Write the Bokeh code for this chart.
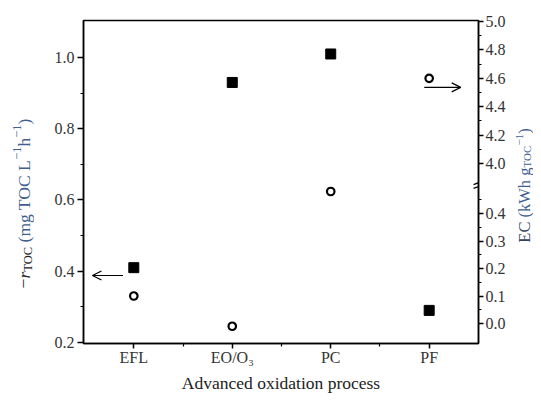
import math
from bokeh.plotting import figure
from bokeh.layouts import row
from bokeh.models import (Range1d, LinearAxis, FixedTicker, Arrow, OpenHead, ColumnDataSource,
                          PrintfTickFormatter)
from bokeh.core.properties import value
from bokeh.embed import file_html
from bokeh.resources import INLINE

# ---------------- data ----------------
processes = ["EFL", "EO/O\u2083", "PC", "PF"]
rate_toc = [0.41, 0.93, 1.01, 0.29]          # -r_TOC (mg TOC L-1 h-1), left axis
energy = [0.10, -0.01, 0.48, 4.60]           # EC (kWh g_TOC-1), right (broken) axis
left_ticks = [0.2, 0.4, 0.6, 0.8, 1.0]
ec_low_ticks = [0.0, 0.1, 0.2, 0.3, 0.4]
ec_high_ticks = [4.0, 4.2, 4.4, 4.6, 4.8, 5.0]

# broken-axis scale for EC: lower segment 0-0.45, upper segment 4.0-5.0 (compressed)
U4, R, BREAK = 0.582, 0.516, 0.505
def ec_scale(v):
    return v if v < 2 else U4 + (v - 4.0) * R

xs = list(range(1, len(processes) + 1))

DARK = "#222222"
BLUE = "#3f5f8f"
TICKC = "#333333"
FONT = "Liberation Serif"
H = 392
TOTAL_W = 533
LW = 34                  # width of left title strip
FRAME_L, FRAME_W = 83, 395
RB = 30                  # right border of main plot
RW = TOTAL_W - (FRAME_L + FRAME_W + RB)   # width of right title strip

p = figure(frame_width=FRAME_W, frame_height=323, output_backend="svg", toolbar_location=None,
           x_range=Range1d(0.489, 4.501), y_range=Range1d(0.197, 1.104),
           min_border_left=FRAME_L - LW, min_border_right=RB, min_border_top=20,
           min_border_bottom=49)
p.xgrid.visible = False
p.ygrid.visible = False
p.outline_line_color = "black"
p.outline_line_width = 1.5
p.background_fill_color = "white"
p.border_fill_color = "white"

p.extra_y_ranges = {"ec": Range1d(-0.0727, 1.1018)}

def style_axis(ax):
    ax.axis_line_width = 1.5
    ax.axis_line_color = "black"
    ax.major_tick_line_width = 1.5
    ax.minor_tick_line_width = 1.2
    ax.major_tick_in = 0
    ax.major_tick_out = 6
    ax.minor_tick_in = 0
    ax.minor_tick_out = 3
    ax.major_label_text_font = FONT
    ax.major_label_text_font_size = "16px"
    ax.major_label_text_color = TICKC
    ax.major_label_standoff = 3

# left axis
yl = p.yaxis[0]
yl.ticker = FixedTicker(ticks=left_ticks,
                        minor_ticks=[(a + b) / 2 for a, b in zip(left_ticks[:-1], left_ticks[1:])])
yl.formatter = PrintfTickFormatter(format="%.1f")
style_axis(yl)

# bottom axis
xb = p.xaxis[0]
xb.ticker = FixedTicker(ticks=xs, minor_ticks=[x + 0.5 for x in xs[:-1]])
xb.major_label_overrides = {x: name for x, name in zip(xs, processes)}
style_axis(xb)
xb.major_tick_out = 5
xb.major_label_standoff = 0
xb.axis_label = "Advanced oxidation process"
xb.axis_label_text_font = FONT
xb.axis_label_text_font_size = "17.5px"
xb.axis_label_text_font_style = "normal"
xb.axis_label_text_color = DARK
xb.axis_label_standoff = 4

# right broken axis
ec_ticks_all = ec_low_ticks + ec_high_ticks
ec_minor = [v + 0.05 for v in ec_low_ticks] + [v + 0.1 for v in ec_high_ticks[:-1]]
yr = LinearAxis(y_range_name="ec",
                ticker=FixedTicker(ticks=[ec_scale(v) for v in ec_ticks_all],
                                   minor_ticks=[ec_scale(v) for v in ec_minor]),
                formatter=PrintfTickFormatter(format="%.1f"))
yr.major_label_overrides = {ec_scale(v): f"{v:.1f}" for v in ec_ticks_all}
style_axis(yr)
yr.major_tick_out = 5
yr.major_label_standoff = 2
p.add_layout(yr, "right")

# data marks
p.scatter(xs, rate_toc, marker="square", size=10, fill_color="black", line_color="black")
p.scatter(xs, [ec_scale(v) for v in energy], y_range_name="ec", marker="circle", size=7.5,
          fill_color="white", line_color="black", line_width=2.2)

# arrows indicating which axis each series belongs to
p.add_layout(Arrow(end=OpenHead(size=9, line_width=1.2, line_color="black"),
                   x_start=xs[0] - 0.11, y_start=rate_toc[0] - 0.022,
                   x_end=xs[0] - 0.42, y_end=rate_toc[0] - 0.022,
                   line_width=1.2, line_color="black"))
p.add_layout(Arrow(end=OpenHead(size=9, line_width=1.2, line_color="black"),
                   x_start=xs[3] - 0.05, y_start=ec_scale(energy[3]) - 0.033,
                   x_end=xs[3] + 0.32, y_end=ec_scale(energy[3]) - 0.033,
                   y_range_name="ec", line_width=1.2, line_color="black"))

# break mark on right axis
for dy in (-0.007, 0.007):
    p.add_layout(Arrow(end=None, x_start=4.501 - 0.05, y_start=BREAK + dy - 0.007,
                       x_end=4.501 + 0.05, y_end=BREAK + dy + 0.007,
                       y_range_name="ec", line_width=1.3, line_color="black"))

# ------- rotated composite axis titles, drawn in narrow strips -------
W = {' ': 250, '(': 333, ')': 333, 'm': 778, 'g': 500, 'T': 611, 'O': 722, 'C': 667,
     'L': 611, 'h': 500, 'r': 389, '\u2212': 564, '1': 500, 'E': 611, 'k': 500, 'W': 944}
def width(s, size):
    return sum(W.get(c, 500) for c in s) * size / 1000.0

def strip(w, pieces, x_base, y_center_img):
    s = figure(frame_width=w, frame_height=H, output_backend="svg", toolbar_location=None,
               x_range=Range1d(0, w), y_range=Range1d(0, H),
               x_axis_location=None, y_axis_location=None,
               min_border=0, min_border_left=0, min_border_right=0,
               min_border_top=0, min_border_bottom=0)
    s.grid.visible = False
    s.outline_line_color = None
    s.background_fill_color = "white"
    s.border_fill_color = "white"
    total = sum(width(t, sz) for t, sz, *_ in pieces)
    y = (H - y_center_img) - total / 2
    d = dict(x=[], y=[], text=[], size=[], style=[], color=[])
    for t, sz, style, color, shift in pieces:
        lead = len(t) - len(t.lstrip(" "))
        d["x"].append(x_base + shift)
        d["y"].append(y + width(" " * lead, sz))
        d["text"].append(t.lstrip(" "))
        d["size"].append(f"{sz}px")
        d["style"].append(style)
        d["color"].append(color)
        y += width(t, sz)
    s.text(x="x", y="y", text="text", source=ColumnDataSource(d), angle=math.pi / 2,
           text_font=value(FONT), text_font_size="size", text_font_style="style",
           text_color="color", text_align="left", text_baseline="alphabetic")
    return s

S, SS = 17.5, 12.5
left_pieces = [("\u2212", S, "normal", DARK, 0), ("r", S, "italic", DARK, 0),
               ("TOC", SS, "normal", DARK, 4), (" (mg TOC L", S, "normal", BLUE, 0),
               ("\u22121", SS, "normal", BLUE, -7), ("h", S, "normal", BLUE, 0),
               ("\u22121", SS, "normal", BLUE, -7), (")", S, "normal", BLUE, 0)]
RS = 16.5
right_pieces = [("EC", RS, "normal", "#33415f", 0), (" (kWh g", RS, "normal", BLUE, 0),
                ("TOC", 11, "normal", BLUE, 2.5), ("\u22121", 11, "normal", BLUE, -5),
                (")", RS, "normal", BLUE, 0)]

left_strip = strip(LW, left_pieces, 23, 183)
right_strip = strip(RW, right_pieces, 15.5, 165)

layout = row(left_strip, p, right_strip, spacing=0)
open("out.html", "w").write(file_html(layout, INLINE))
